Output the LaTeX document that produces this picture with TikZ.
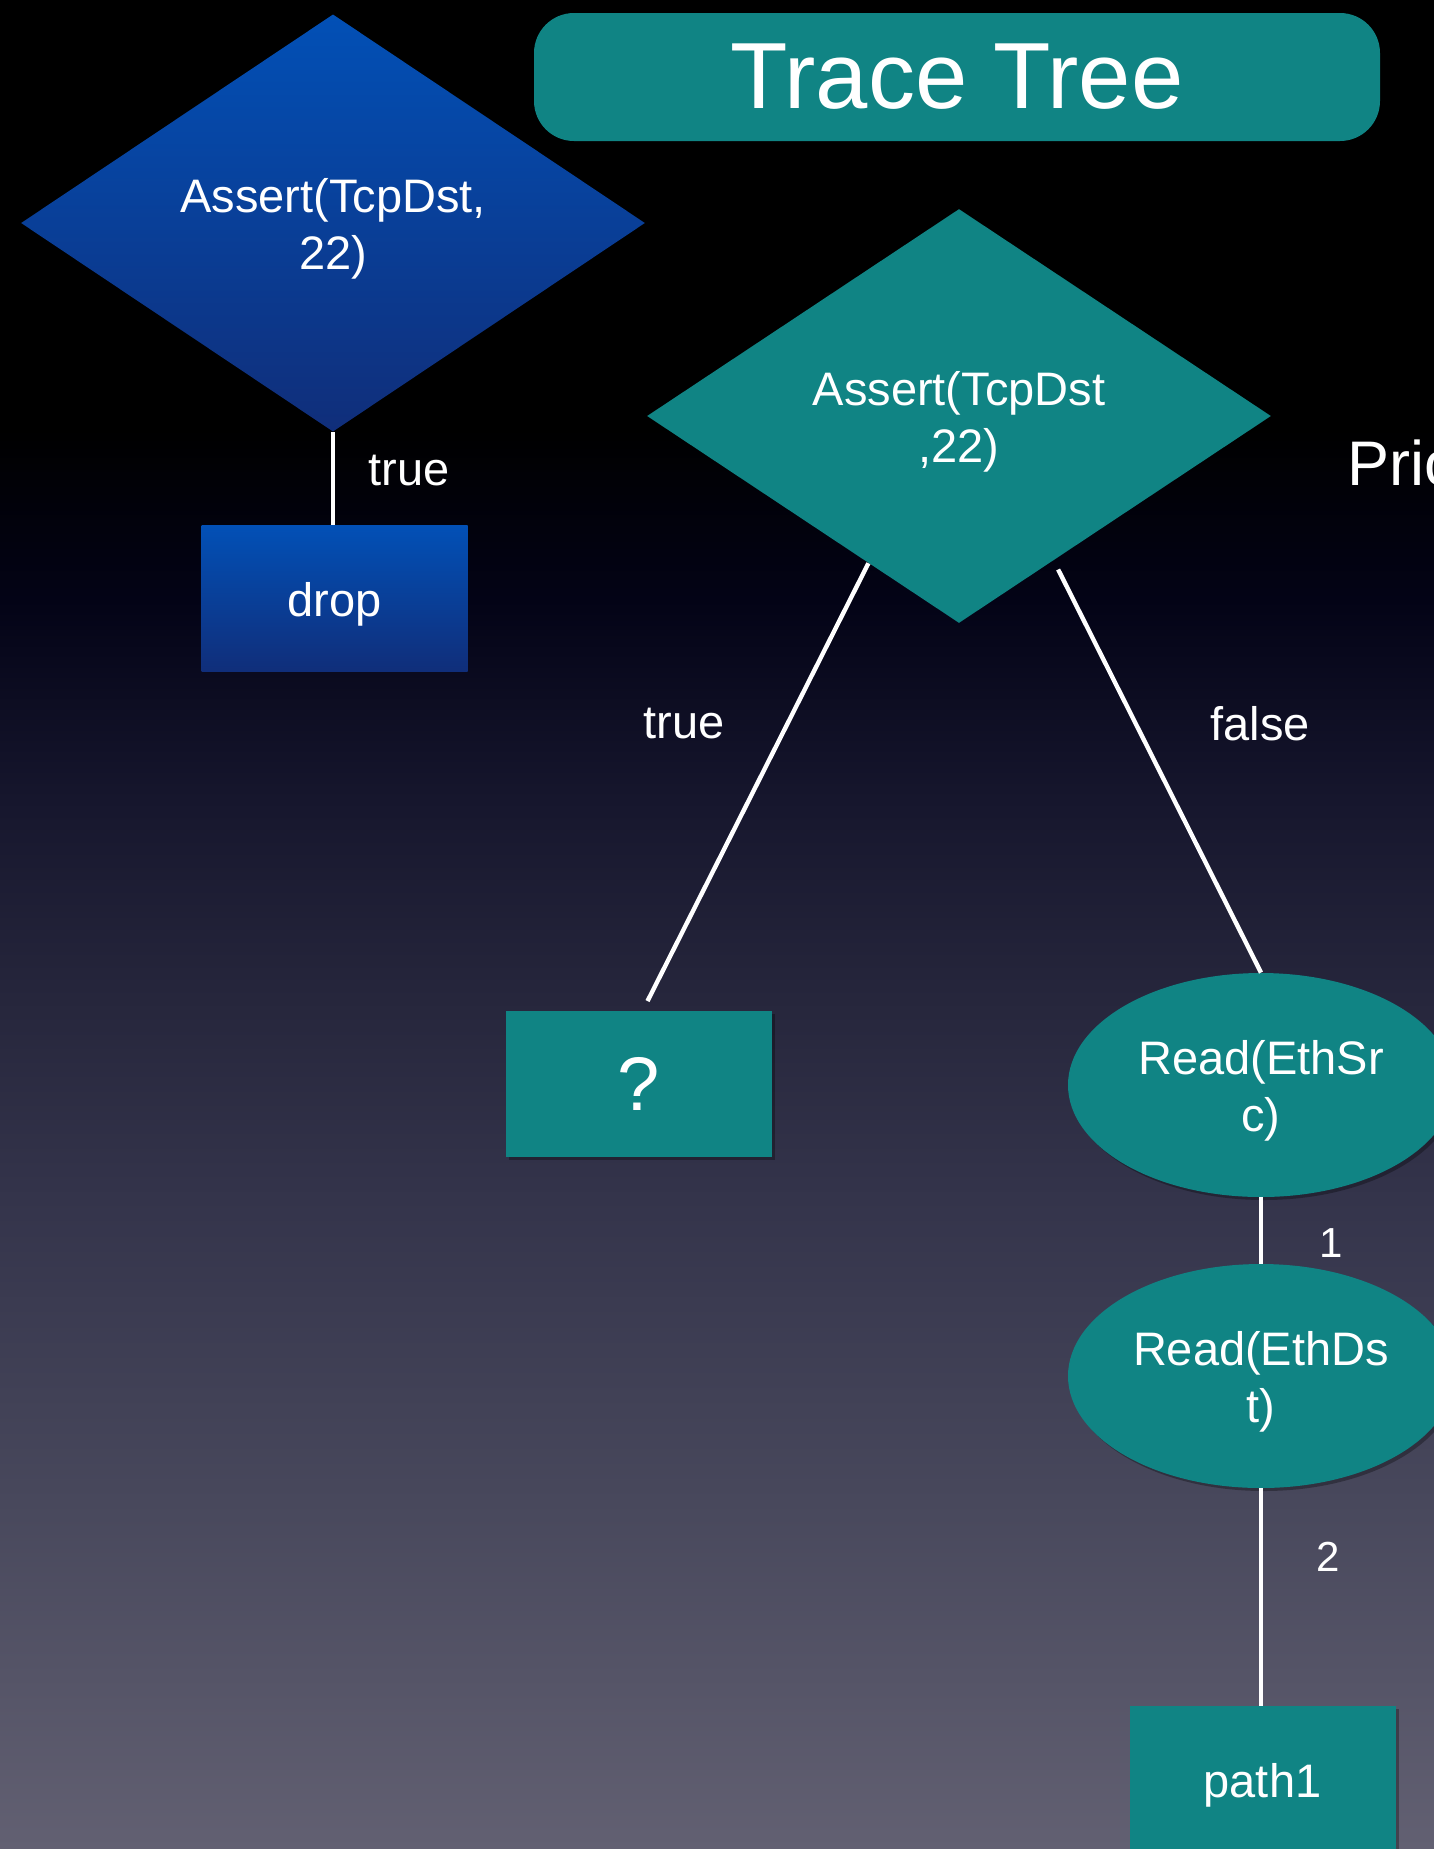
\documentclass[tikz,border=0pt]{standalone}
\usepackage{fontspec}
\setmainfont{Liberation Sans}
\usetikzlibrary{shapes.geometric,calc,shadows}

% palette
\definecolor{tealfill}{RGB}{16,132,132}
\definecolor{blueTop}{RGB}{2,80,182}
\definecolor{blueBot}{RGB}{16,46,122}
\definecolor{bgA}{RGB}{98,96,114}
\definecolor{bgB}{RGB}{72,72,92}
\definecolor{bgC}{RGB}{52,52,75}
\definecolor{bgD}{RGB}{38,38,60}
\definecolor{bgE}{RGB}{22,22,45}
\definecolor{bgF}{RGB}{3,3,22}

% slide background: black at the top fading into grey-violet at the bottom
\pgfdeclareverticalshading{slidebg}{100bp}{%
  color(0bp)=(bgA); color(25bp)=(bgA); color(34.4bp)=(bgB);
  color(42.6bp)=(bgC); color(48bp)=(bgD); color(53.4bp)=(bgE);
  color(58.8bp)=(bgF); color(63.4bp)=(black); color(100bp)=(black)}

\begin{document}
\begin{tikzpicture}[x=0.5pt,y=-0.5pt,
  txt/.style={text=white, font=\fontsize{23.5}{28.5}\selectfont, align=center,
              text height=23pt},
  twoline/.style={text height=51pt},
  softshadow/.style={drop shadow={shadow xshift=1.5pt, shadow yshift=-1.5pt, opacity=0.3, fill=black}},
  tealbox/.style={rectangle, fill=tealfill, minimum width=133pt, minimum height=73pt,
                  inner sep=0pt, txt, softshadow},
  bluebox/.style={rectangle, top color=blueTop, bottom color=blueBot,
                  minimum width=133pt, minimum height=73pt, inner sep=0pt, txt},
  decision/.style={diamond, inner sep=0pt, minimum width=312pt, minimum height=207pt,
                   txt, twoline},
  readnode/.style={ellipse, fill=tealfill, minimum width=193pt, minimum height=112pt,
                   inner sep=0pt, txt, twoline, softshadow},
  conn/.style={draw=white, line width=2.2pt},
  lbl/.style={text=white, font=\fontsize{23.5}{28.5}\selectfont, inner sep=0pt},
  numlbl/.style={text=white, font=\fontsize{21}{25}\selectfont, inner sep=0pt}]

\clip (0,0) rectangle (1434,1849);
\shade[shading=slidebg] (0,0) rectangle (1434,1849);

% title
\node[rectangle, rounded corners=20pt, fill=tealfill, minimum width=423pt,
      minimum height=64pt, inner sep=0pt, text=white,
      font=\fontsize{47}{56}\selectfont] (title) at (957,77) {Trace Tree};

% left tree
\node[decision, top color=blueTop, bottom color=blueBot] (d1) at (333,223)
  {Assert(TcpDst,\\22)};
\node[bluebox] (drop) at (334.5,598.5) {drop};
\draw[conn] (d1.south) -- (d1.south |- drop.north);
\node[lbl] (t1) at (409,471) {true};

% right tree
\node[decision, fill=tealfill] (d2) at (959,416) {Assert(TcpDst\\,22)};
\node[tealbox, text height=, font=\fontsize{38}{44}\selectfont] (q) at (638.5,1083.5) {?};
\node[readnode] (e1) at (1261,1085) {Read(EthSr\\c)};
\node[readnode] (e2) at (1261,1376) {Read(EthDs\\t)};
\node[tealbox] (p1) at (1262.5,1779) {path1};

\coordinate (d2l) at ($(d2.west)!0.71!(d2.south)$);
\coordinate (d2r) at ($(d2.east)!0.697!(d2.south)$);
\coordinate (qin) at ($(q.north)+(9,-9)$);

\draw[conn] (d2l) -- (qin);
\draw[conn, shorten <=5pt] (d2r) -- (e1.north);
\draw[conn] (e1.south) -- (e2.north);
\draw[conn] (e2.south) -- (e2.south |- p1.north);

\node[lbl] (t2) at (684,724) {true};
\node[lbl] (f2) at (1260,724) {false};
\node[numlbl] (n1) at (1331,1243) {1};
\node[numlbl] (n2) at (1328,1557) {2};

% side caption running off the right edge
\node[anchor=base west, inner sep=0pt, text=white, font=\fontsize{31.5}{36}\selectfont]
  (prio) at (1347,485) {Priority};
\end{tikzpicture}
\end{document}
